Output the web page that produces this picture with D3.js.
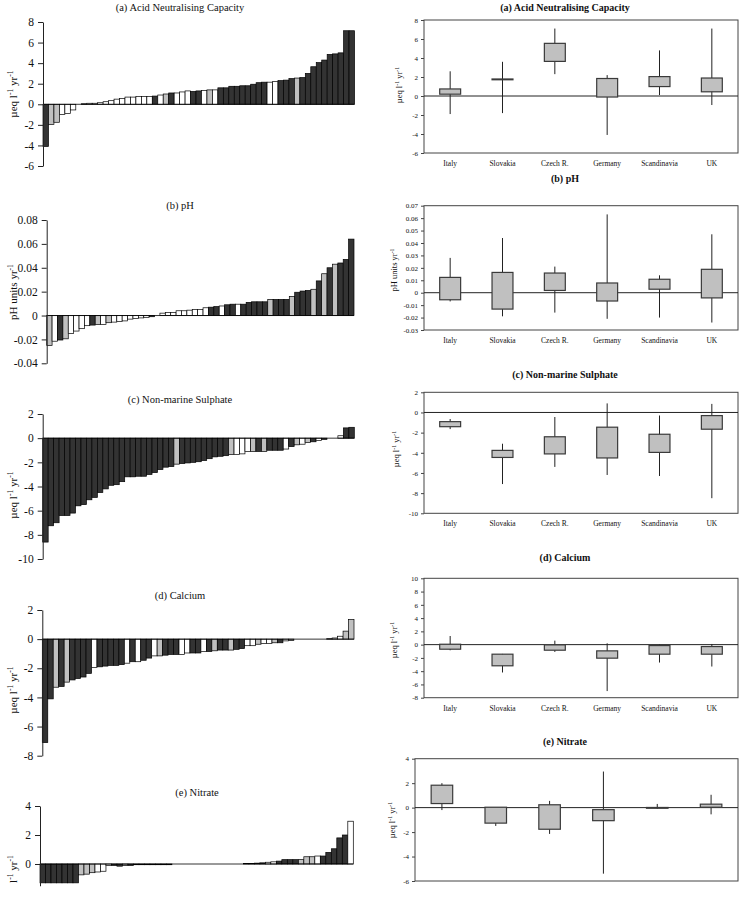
<!DOCTYPE html>
<html>
<head>
<meta charset="utf-8">
<script src="https://cdn.jsdelivr.net/npm/d3@7"></script>
<style>
body { margin: 0; background: #fff; }
svg { display: block; font-family: "Liberation Serif", "Times New Roman", serif; }
</style>
</head>
<body>
<svg id="chart" width="751" height="915"></svg>
<script>
// ---- site trends, sorted (left column). d = dark, g = grey, w = white bar
var ancValues = [-4.1,-1.95,-1.75,-1.0,-0.9,-0.55,0,0.05,0.1,0.1,0.15,0.25,0.35,0.5,0.55,0.7,0.7,0.75,0.75,0.75,
  0.8,0.9,1.0,1.1,1.1,1.2,1.3,1.25,1.3,1.35,1.4,1.4,1.6,1.6,1.75,1.75,1.8,1.8,1.95,2.1,
  2.15,2.15,2.2,2.3,2.35,2.5,2.55,2.6,3.0,3.65,4.05,4.3,4.85,4.9,5.0,7.15,7.15];
var ancGroups = "dggwwwwdwwwwwwwwwwwwdwgdwwwddwgwdddddddddwwdddgdddddddddd".split("");

var phValues = [-0.025,-0.0215,-0.0205,-0.0195,-0.015,-0.013,-0.011,-0.0085,-0.008,-0.0075,
  -0.0075,-0.006,-0.0055,-0.005,-0.0045,-0.003,-0.0025,-0.002,-0.0015,-0.001,
  0,0.002,0.0025,0.0025,0.004,0.004,0.0045,0.005,0.005,0.0065,
  0.007,0.0075,0.008,0.009,0.0095,0.0095,0.0095,0.011,0.0115,0.0115,
  0.0115,0.0135,0.0135,0.0135,0.0135,0.016,0.0195,0.0205,0.021,0.022,
  0.029,0.035,0.040,0.043,0.044,0.047,0.064];
var phGroups = "gwdgwwwwdgwgwwwwwwwdwwwwwwwwwwddwddwdddddgdddgdddgdgdgddd".split("");

var so4Values = [-8.6,-7.25,-7.0,-6.4,-6.4,-6.2,-5.6,-5.5,-5.1,-4.9,
  -4.5,-4.2,-3.9,-3.85,-3.6,-3.2,-3.2,-3.15,-3.15,-3.0,
  -2.85,-2.6,-2.4,-2.35,-2.15,-2.1,-2.05,-2.0,-1.95,-1.85,
  -1.7,-1.55,-1.5,-1.45,-1.35,-1.35,-1.3,-1.1,-1.1,-1.1,
  -1.1,-1.0,-1.0,-1.0,-0.9,-0.7,-0.55,-0.5,-0.35,-0.3,
  -0.2,-0.1,0,0,0.2,0.85,0.9];
var so4Groups = "ddddddddddddddddddddddddgdddddddddgwwwgdgdddwdgwgdwdwwwdd".split("");

var caValues = [-7.1,-4.1,-3.3,-3.25,-2.95,-2.8,-2.7,-2.6,-2.35,-1.95,
  -1.9,-1.85,-1.8,-1.8,-1.75,-1.65,-1.55,-1.55,-1.45,-1.3,
  -1.15,-1.15,-1.1,-1.05,-1.05,-1.05,-0.95,-0.95,-0.95,-0.85,
  -0.85,-0.8,-0.75,-0.75,-0.75,-0.7,-0.65,-0.45,-0.45,-0.35,
  -0.3,-0.3,-0.25,-0.25,-0.12,-0.1,0,0,0,0,
  0,0,0.03,0.08,0.2,0.55,1.35];
var caGroups = "ddgdgddddwdddddwdwddwgdddwwddwdgddgddwwgwwgdwgwwwwwwdwwgg".split("");

var no3Values = [-1.3,-1.3,-1.3,-1.3,-1.3,-1.3,-1.3,-0.75,-0.7,-0.6,
  -0.55,-0.5,-0.1,-0.1,-0.15,-0.1,-0.1,-0.05,-0.05,-0.05,
  -0.05,-0.05,-0.05,-0.05,0,0,0,0,0,0,
  0,0,0,0,0,0,0,0.03,0.04,0.06,
  0.08,0.12,0.15,0.2,0.3,0.3,0.3,0.3,0.5,0.5,
  0.55,0.55,0.8,1.05,1.8,2.0,2.95];
var no3Groups = "ddddddddgggwwwddgddddddddwwwwwwwwwwwwwddddwwddddgggwdddddw".split("");
no3Groups = no3Groups.slice(1);

// ---- regional summaries (right column): [min, q1, q3, max]
var countries = ["Italy", "Slovakia", "Czech R.", "Germany", "Scandinavia", "UK"];
var ancBox = [[-1.9,0.15,0.7,2.6],[-1.8,1.75,1.75,3.6],[2.3,3.6,5.5,7.1],[-4.1,-0.15,1.8,2.2],[0.1,0.95,2.0,4.8],[-0.95,0.4,1.85,7.1]];
var phBox = [[-0.007,-0.006,0.012,0.028],[-0.019,-0.0135,0.016,0.044],[-0.016,0.0015,0.0155,0.021],[-0.021,-0.007,0.0075,0.063],[-0.020,0.0025,0.0105,0.014],[-0.024,-0.0045,0.0185,0.047]];
var so4Box = [[-1.65,-1.45,-0.95,-0.65],[-7.1,-4.5,-3.8,-3.1],[-5.4,-4.15,-2.45,-0.45],[-6.2,-4.55,-1.5,0.9],[-6.3,-4.0,-2.2,-0.3],[-8.5,-1.7,-0.35,0.85]];
var caBox = [[-0.85,-0.75,0,1.3],[-4.2,-3.25,-1.5,-1.4],[-1.1,-0.9,-0.1,0.6],[-7.0,-2.1,-1.0,0.2],[-2.7,-1.5,-0.2,0.0],[-3.3,-1.5,-0.35,0.1]];
var no3Box = [[-0.2,0.3,1.8,2.0],[-1.5,-1.3,0,0.05],[-2.15,-1.8,0.2,0.55],[-5.4,-1.1,-0.2,2.95],[-0.1,-0.05,-0.02,0.3],[-0.55,0,0.25,1.05]];

var ancTicks = [-6,-4,-2,0,2,4,6,8];
var phTicksL = [-0.04,-0.02,0,0.02,0.04,0.06,0.08];
var phTicksR = [-0.03,-0.02,-0.01,0,0.01,0.02,0.03,0.04,0.05,0.06,0.07];
var so4Ticks = [-10,-8,-6,-4,-2,0,2];
var caTicksL = [-8,-6,-4,-2,0,2];
var caTicksR = [-8,-6,-4,-2,0,2,4,6,8,10];
var no3TicksL = [0,2,4];
var no3TicksR = [-6,-4,-2,0,2,4];

var ueqLabel = [["\u00b5eq l",0],["-1",1],[" yr",0],["-1",1]];
var ueqCutLabel = [["l",0],["-1",1],[" yr",0],["-1",1]];
var phLabel = [["pH units yr",0],["-1",1]];

var fills = {d: "#333333", g: "#c0c0c0", w: "#ffffff"};
var svg = d3.select("#chart");

function addLabel(g, x, y, parts, size) {
    var t = g.append("text")
	.attr("transform", "translate(" + x + "," + y + ") rotate(-90)")
	.attr("text-anchor", "middle")
	.attr("font-size", size)
	.attr("fill", "#111");
    var up = false, shift = size * 0.4;
    parts.forEach(function(p){
	var s = t.append("tspan").text(p[0]);
	if (p[1]) {
	    s.attr("font-size", size * 0.7);
	    if (!up) { s.attr("dy", -shift); up = true; }
	} else if (up) {
	    s.attr("dy", shift); up = false;
	}
    });
}

function leftPanel(p) {
    var g = svg.append("g");
    var x = d3.scaleBand().domain(d3.range(p.values.length)).range([p.x0, p.x1]);
    var y = d3.scaleLinear().domain(p.domain).range([p.y1, p.y0]);

    g.selectAll("rect.bar").data(p.values).join("rect")
	.attr("class", "bar")
	.attr("x", function(d, i){ return x(i); })
	.attr("width", x.bandwidth())
	.attr("y", function(d){ return y(Math.max(0, d)); })
	.attr("height", function(d){ return Math.abs(y(d) - y(0)); })
	.attr("fill", function(d, i){ return fills[p.groups[i]]; })
	.attr("stroke", "#000")
	.attr("stroke-width", 0.7);

    g.append("line")
	.attr("x1", p.x0).attr("x2", p.x1)
	.attr("y1", y(0)).attr("y2", y(0))
	.attr("stroke", "#000").attr("stroke-width", 0.8);

    var ax = g.append("g")
	.attr("transform", "translate(" + p.x0 + ",0)")
	.call(d3.axisLeft(y).tickValues(p.ticks).tickSize(5).tickPadding(4)
	      .tickSizeOuter(0).tickFormat(function(d){ return String(d); }));
    ax.selectAll("text").attr("font-size", 11.5).attr("fill", "#111");
    ax.selectAll("line, path").attr("stroke", "#222");
    ax.attr("font-family", null);

    svg.append("text")
	.attr("x", p.titleX).attr("y", p.titleY)
	.attr("text-anchor", "middle")
	.attr("font-size", 10.5)
	.attr("fill", "#111")
	.text(p.title);

    addLabel(g, p.labelX, p.labelY, p.label, 11);
}

function rightPanel(p) {
    var g = svg.append("g");
    var x = d3.scaleBand().domain(countries).range([p.x0, p.x1]);
    var y = d3.scaleLinear().domain(p.domain).range([p.y1, p.y0]);
    var bw = x.bandwidth() * 0.4;

    g.append("rect")
	.attr("x", p.x0).attr("y", p.y0)
	.attr("width", p.x1 - p.x0).attr("height", p.y1 - p.y0)
	.attr("fill", "none").attr("stroke", "#444").attr("stroke-width", 1);

    var ax = g.append("g")
	.attr("transform", "translate(" + p.x0 + ",0)")
	.call(d3.axisLeft(y).tickValues(p.ticks).tickSize(3).tickPadding(3)
	      .tickSizeOuter(0).tickFormat(function(d){ return String(d); }));
    ax.select(".domain").remove();
    ax.attr("font-family", null);
    ax.selectAll("text").attr("font-size", 7).attr("fill", "#111");
    ax.selectAll("line").attr("stroke", "#444");

    g.append("line")
	.attr("x1", p.x0).attr("x2", p.x1)
	.attr("y1", y(0)).attr("y2", y(0))
	.attr("stroke", "#222").attr("stroke-width", 1);

    var box = g.selectAll("g.box").data(p.boxes).join("g")
	.attr("class", "box")
	.attr("transform", function(d, i){
	    return "translate(" + (x(countries[i]) + x.bandwidth() / 2) + ",0)";
	});
    box.append("line")
	.attr("y1", function(d){ return y(d[0]); })
	.attr("y2", function(d){ return y(d[3]); })
	.attr("stroke", "#222").attr("stroke-width", 1);
    box.append("rect")
	.attr("x", -bw / 2).attr("width", bw)
	.attr("y", function(d){ return y(d[2]) - 0.4; })
	.attr("height", function(d){ return Math.max(0.8, y(d[1]) - y(d[2])); })
	.attr("fill", "#c0c0c0")
	.attr("stroke", "#3a3a3a").attr("stroke-width", 1.2);

    if (p.showCats) {
	g.selectAll("text.cat").data(countries).join("text")
	    .attr("class", "cat")
	    .attr("x", function(d){ return x(d) + x.bandwidth() / 2; })
	    .attr("y", p.y1 + 13)
	    .attr("text-anchor", "middle")
	    .attr("font-size", 7.5)
	    .attr("fill", "#111")
	    .text(function(d){ return d; });
    }

    svg.append("text")
	.attr("x", 565).attr("y", p.titleY)
	.attr("text-anchor", "middle")
	.attr("font-size", 10)
	.attr("font-weight", "bold")
	.attr("fill", "#111")
	.text(p.title);

    addLabel(g, p.labelX, p.labelY, p.label, 8.5);
}

leftPanel({values: ancValues, groups: ancGroups, domain: [-6, 8], ticks: ancTicks,
	   x0: 43, x1: 354.5, y0: 22, y1: 166, title: "(a) Acid Neutralising Capacity",
	   titleX: 180, titleY: 11, label: ueqLabel, labelX: 17, labelY: 94});
leftPanel({values: phValues, groups: phGroups, domain: [-0.04, 0.08], ticks: phTicksL,
	   x0: 46.7, x1: 354, y0: 220, y1: 363.3, title: "(b) pH",
	   titleX: 180, titleY: 209, label: phLabel, labelX: 17, labelY: 292});
leftPanel({values: so4Values, groups: so4Groups, domain: [-10, 2], ticks: so4Ticks,
	   x0: 42.7, x1: 354.3, y0: 414, y1: 559, title: "(c) Non-marine Sulphate",
	   titleX: 180, titleY: 403, label: ueqLabel, labelX: 17, labelY: 495});
leftPanel({values: caValues, groups: caGroups, domain: [-8, 2], ticks: caTicksL,
	   x0: 42.3, x1: 354, y0: 610, y1: 755.7, title: "(d) Calcium",
	   titleX: 180, titleY: 599, label: ueqLabel, labelX: 17, labelY: 690});
// bottom of the nitrate site panel is cut off in the source figure
leftPanel({values: no3Values, groups: no3Groups, domain: [-1.5, 4], ticks: no3TicksL,
	   x0: 40, x1: 353.3, y0: 806, y1: 885.75, title: "(e) Nitrate",
	   titleX: 197, titleY: 796, label: ueqCutLabel, labelX: 17, labelY: 869});

rightPanel({boxes: ancBox, domain: [-6, 8], ticks: ancTicks,
	    x0: 424, x1: 738, y0: 20, y1: 153, showCats: true,
	    title: "(a) Acid Neutralising Capacity", titleY: 11, label: ueqLabel, labelX: 402, labelY: 85});
rightPanel({boxes: phBox, domain: [-0.03, 0.07], ticks: phTicksR,
	    x0: 424, x1: 738, y0: 205.7, y1: 330, showCats: true,
	    title: "(b) pH", titleY: 182, label: phLabel, labelX: 397, labelY: 270});
rightPanel({boxes: so4Box, domain: [-10, 2], ticks: so4Ticks,
	    x0: 424, x1: 738, y0: 392.3, y1: 513.3, showCats: true,
	    title: "(c) Non-marine Sulphate", titleY: 378, label: ueqLabel, labelX: 399, labelY: 449});
rightPanel({boxes: caBox, domain: [-8, 10], ticks: caTicksR,
	    x0: 424, x1: 738, y0: 578.3, y1: 697.7, showCats: true,
	    title: "(d) Calcium", titleY: 561, label: ueqLabel, labelX: 397, labelY: 640});
rightPanel({boxes: no3Box, domain: [-6, 4], ticks: no3TicksR,
	    x0: 415, x1: 738, y0: 758.7, y1: 881, showCats: false,
	    title: "(e) Nitrate", titleY: 745, label: ueqLabel, labelX: 395, labelY: 820});
</script>
</body>
</html>
